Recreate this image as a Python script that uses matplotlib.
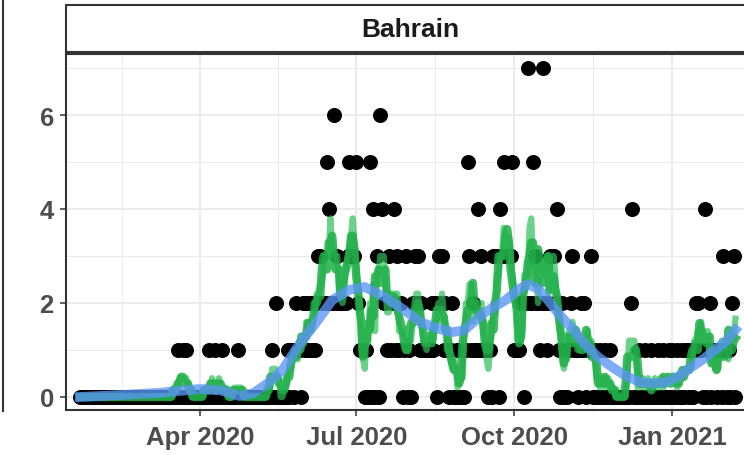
import pandas as pd
import matplotlib
matplotlib.use("Agg")
import matplotlib.pyplot as plt
import matplotlib.dates as mdates
from matplotlib.lines import Line2D
from matplotlib.patches import Rectangle

plt.rcParams["font.family"] = ["Liberation Sans", "DejaVu Sans"]

country = "Bahrain"
start_date = "2020-01-22"

# daily new deaths, one list per month
jan20 = [0, 0, 0, 0, 0, 0, 0, 0, 0, 0]
feb20 = [0] * 29
mar20 = [0, 0, 0, 0, 0, 0, 0, 0, 0, 0, 0, 0, 0, 0, 0, 0, 0, 0,
         1, 0, 0, 1, 0, 1, 0, 0, 0, 0, 0, 0, 0]
apr20 = [0, 0, 0, 0, 0, 1, 0, 0, 0, 1, 0, 0, 0, 1, 0,
         0, 0, 0, 0, 0, 0, 0, 1, 0, 0, 0, 0, 0, 0, 0]
may20 = [0, 0, 0, 0, 0, 0, 0, 0, 0, 0, 0, 0, 1, 0, 2, 0,
         0, 0, 0, 0, 0, 1, 0, 1, 1, 0, 2, 1, 1, 0, 2]
jun20 = [1, 2, 1, 2, 1, 2, 1, 2, 3, 3, 2, 2, 2, 5, 4,
         2, 2, 6, 2, 3, 2, 2, 2, 2, 2, 3, 5, 3, 3, 3]
jul20 = [5, 2, 1, 1, 1, 0, 1, 0, 5, 0, 4, 0, 3, 0, 6, 4,
         2, 2, 1, 3, 1, 2, 4, 1, 3, 1, 2, 0, 1, 3, 0]
aug20 = [1, 0, 2, 3, 2, 3, 1, 2, 1, 1, 1, 1, 1, 2, 1, 2,
         0, 3, 2, 3, 1, 2, 1, 0, 1, 2, 0, 0, 1, 0, 0]
sep20 = [1, 0, 1, 5, 3, 1, 2, 1, 1, 4, 1, 3, 1, 1, 1,
         0, 1, 0, 3, 3, 3, 0, 4, 3, 5, 3, 3, 3, 3, 5]
oct20 = [1, 1, 1, 1, 2, 2, 0, 2, 7, 2, 2, 5, 3, 2, 2, 1,
         2, 7, 2, 1, 2, 3, 3, 3, 2, 4, 1, 0, 2, 0, 1]
nov20 = [0, 1, 2, 3, 1, 1, 0, 1, 2, 1, 2, 0, 1, 1, 3,
         0, 1, 0, 0, 1, 0, 0, 1, 0, 0, 1, 0, 0, 0, 0]
dec20 = [0, 0, 0, 0, 0, 0, 0, 2, 4, 0, 0, 0, 1, 0, 0, 1,
         0, 0, 0, 1, 0, 0, 0, 1, 0, 0, 1, 0, 0, 1, 0]
jan21 = [1, 0, 0, 1, 0, 0, 1, 0, 1, 1, 0, 1, 0, 1, 2, 2,
         1, 1, 0, 4, 0, 1, 2, 0, 1, 1, 0, 1, 1, 0, 3]
feb21 = [1, 0, 1, 0, 2, 3, 0]

daily_deaths = (jan20 + feb20 + mar20 + apr20 + may20 + jun20 + jul20
                + aug20 + sep20 + oct20 + nov20 + dec20 + jan21 + feb21)

# smoothed trend (blue)
smooth_dates = ["2020-01-22", "2020-02-14", "2020-03-09", "2020-04-01", "2020-04-13",
                "2020-04-24", "2020-05-02", "2020-05-10", "2020-05-19", "2020-05-29",
                "2020-06-08", "2020-06-17", "2020-06-27", "2020-07-06", "2020-07-18",
                "2020-07-29", "2020-08-07", "2020-08-18", "2020-08-26", "2020-09-02",
                "2020-09-06", "2020-09-14", "2020-09-26", "2020-10-04", "2020-10-09",
                "2020-10-15", "2020-10-21", "2020-10-27", "2020-11-04", "2020-11-11",
                "2020-11-19", "2020-11-27", "2020-12-05", "2020-12-13", "2020-12-20",
                "2020-12-28", "2021-01-04", "2021-01-11", "2021-01-19", "2021-01-26",
                "2021-02-02", "2021-02-07"]
smooth_values = [0.0, 0.04, 0.09, 0.17, 0.14, 0.02, 0.08, 0.28, 0.57, 1.13,
                 1.6, 2.06, 2.28, 2.34, 2.12, 1.85, 1.6, 1.45, 1.38, 1.42,
                 1.55, 1.8, 2.06, 2.3, 2.4, 2.3, 2.05, 1.77, 1.45, 1.13,
                 0.85, 0.64, 0.45, 0.32, 0.29, 0.31, 0.42, 0.6, 0.8, 1.0,
                 1.2, 1.43]

major_dates = ["2020-04-01", "2020-07-01", "2020-10-01", "2021-01-01"]
major_labels = ["Apr 2020", "Jul 2020", "Oct 2020", "Jan 2021"]
y_ticks = [0, 2, 4, 6]

dates = pd.date_range(start_date, periods=len(daily_deaths), freq="D")
deaths = pd.Series(daily_deaths, index=dates)
rolling = deaths.rolling(7, center=True, min_periods=4).mean()
rolling_short = deaths.rolling(5, center=True, min_periods=3).mean()

W, H = 744, 456
fig = plt.figure(figsize=(W / 100, H / 100), dpi=100)
ax = fig.add_axes([66 / W, 1 - 411 / H, (754 - 66) / W, (411 - 55) / H])

ax.scatter(dates, deaths.values, s=117, color="black", linewidths=0, zorder=3)
ax.plot(dates, rolling_short.values, color="#2EBE57", lw=4.5, alpha=0.7,
        solid_joinstyle="round", zorder=4)
ax.plot(dates, rolling.values, color="#1FAE48", lw=6, alpha=0.85,
        solid_joinstyle="round", zorder=4)
ax.plot(pd.to_datetime(smooth_dates), smooth_values, color="#5A95F5", lw=7,
        alpha=0.78, solid_joinstyle="round", zorder=5)

# axes limits
day0 = mdates.date2num(pd.Timestamp(start_date))
ax.set_xlim(day0 - 8.1, day0 + 392.8)
ax.set_ylim(-0.277, 7.298)

major_num = [mdates.date2num(pd.Timestamp(d)) for d in major_dates]
ax.set_xticks(major_num)
ax.set_xticklabels(major_labels)
edges = [major_num[0] - 91] + major_num + [major_num[-1] + 90]
ax.set_xticks([(a + b) / 2 for a, b in zip(edges[:-1], edges[1:])], minor=True)
ax.set_yticks(y_ticks)
ax.set_yticks([1, 3, 5, 7], minor=True)

ax.grid(which="major", color="#EBEBEB", lw=1.4)
ax.grid(which="minor", color="#EBEBEB", lw=0.7)
ax.set_axisbelow(True)

for s in ax.spines.values():
    s.set_color("#333333")
    s.set_linewidth(1.5)

ax.tick_params(which="major", length=4.3, width=1.1, color="#333333",
               labelcolor="#4D4D4D", labelsize=18.5)
ax.tick_params(axis="x", which="major", pad=6.5)
ax.tick_params(axis="y", which="major", pad=4.5)
ax.tick_params(which="minor", length=0)
for lab in ax.get_xticklabels() + ax.get_yticklabels():
    lab.set_fontweight("bold")

# facet strip
fig.patches.append(Rectangle((66 / W, 1 - 53 / H), (754 - 66) / W, 47 / H,
                             transform=fig.transFigure, facecolor="white",
                             edgecolor="#333333", lw=1.5, clip_on=False))
fig.text(410 / W, 1 - 30 / H, country, ha="center", va="center",
         fontsize=19, fontweight="bold", color="#1A1A1A")

# edge of the neighbouring panel
fig.add_artist(Line2D([2.5 / W, 2.5 / W], [1, 1 - 412 / H], color="#333333", lw=1.5))

fig.savefig("out.png", dpi=100)
